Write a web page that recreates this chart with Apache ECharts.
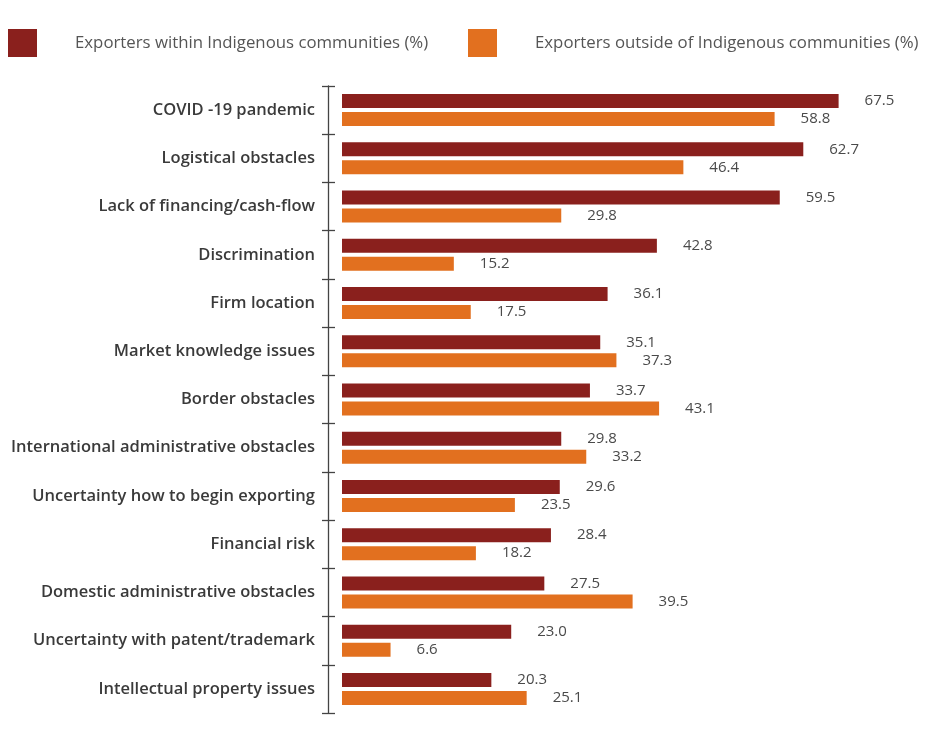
<!DOCTYPE html>
<html><head><meta charset="utf-8">
<script src="https://cdn.jsdelivr.net/npm/echarts@6/dist/echarts.min.js"></script>
<style>html,body{margin:0;padding:0;background:#fff}#c{width:926px;height:756px}</style>
</head><body><div id="c"></div>
<script>
const categories = ["COVID -19 pandemic","Logistical obstacles","Lack of financing/cash-flow","Discrimination","Firm location","Market knowledge issues","Border obstacles","International administrative obstacles","Uncertainty how to begin exporting","Financial risk","Domestic administrative obstacles","Uncertainty with patent/trademark","Intellectual property issues"];
const withinValues = [67.5,62.7,59.5,42.8,36.1,35.1,33.7,29.8,29.6,28.4,27.5,23.0,20.3];
const outsideValues = [58.8,46.4,29.8,15.2,17.5,37.3,43.1,33.2,23.5,18.2,39.5,6.6,25.1];
const seriesNames = ["Exporters within Indigenous communities (%)","Exporters outside of Indigenous communities (%)"];
const colors = ["#8A201D","#E2701F"];

const chart = echarts.init(document.getElementById('c'));
const labelStyle = {show:true, position:'right', distance:26, color:'#4a4a4a', fontSize:15, fontFamily:'Open Sans', formatter:p=>p.value.toFixed(1)};
const legendText = {color:'#555', fontSize:16.8, fontFamily:'Open Sans', padding:[0,0,0,33]};
chart.setOption({
  animation:false,
  legend:[
    {data:[seriesNames[0]], left:8, top:29, padding:0, itemWidth:29, itemHeight:28, icon:'rect', textStyle:legendText},
    {data:[seriesNames[1]], left:468, top:29, padding:0, itemWidth:29, itemHeight:28, icon:'rect', textStyle:legendText}
  ],
  grid:{left:342, right:69, top:86, bottom:43},
  xAxis:{type:'value', min:0, max:70, show:false},
  yAxis:[
    {type:'category', data:categories, inverse:true, offset:14,
     axisLine:{show:true, onZero:false, lineStyle:{color:'#444', width:1.3}},
     axisTick:{show:true, length:6, lineStyle:{color:'#444', width:1.3}},
     axisLabel:{margin:13, color:'#3a3a3a', fontSize:16.5, fontWeight:600, fontFamily:'Open Sans', padding:[5,0,0,0]}},
    {type:'category', data:categories, inverse:true, offset:14, position:'left',
     axisLine:{show:false, onZero:false},
     axisTick:{show:true, inside:true, length:7, lineStyle:{color:'#444', width:1.3}},
     axisLabel:{show:false}}
  ],
  series:[
    {name:seriesNames[0], type:'bar', data:withinValues, barWidth:14, barGap:'28.6%', itemStyle:{color:colors[0]}, label:labelStyle},
    {name:seriesNames[1], type:'bar', data:outsideValues, barWidth:14, barGap:'28.6%', itemStyle:{color:colors[1]}, label:labelStyle}
  ]
});
</script></body></html>
